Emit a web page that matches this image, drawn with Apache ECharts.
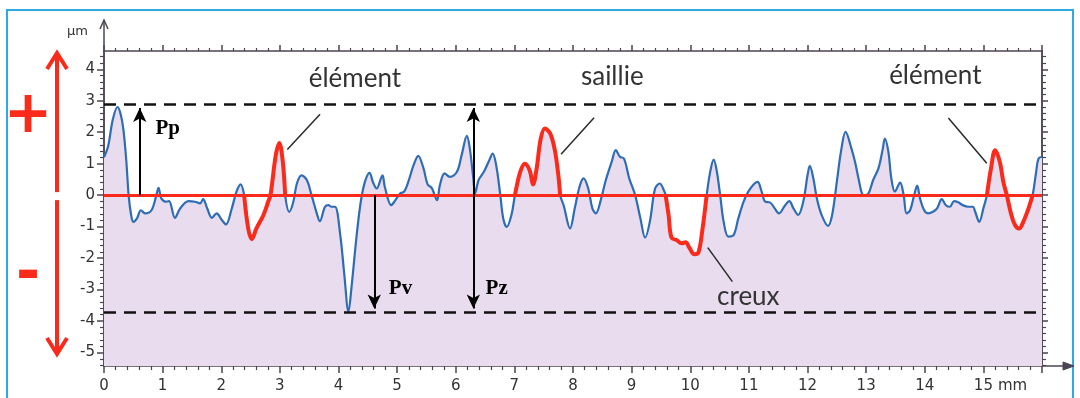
<!DOCTYPE html>
<html><head><meta charset="utf-8">
<script src="https://cdn.jsdelivr.net/npm/echarts@6/dist/echarts.min.js"></script>
<style>html,body{margin:0;padding:0;background:#fff}#c{width:1080px;height:398px}</style>
</head><body><div id="c"></div><script>
// ---- data (mm, µm) ----
const xs = [0.00,0.07,0.15,0.23,0.28,0.33,0.38,0.42,0.46,0.50,0.56,0.63,0.70,0.81,0.90,0.93,0.98,1.07,1.11,1.21,1.30,1.44,1.55,1.64,1.69,1.76,1.84,1.92,2.01,2.08,2.18,2.26,2.33,2.39,2.46,2.52,2.60,2.72,2.80,2.84,2.93,2.99,3.05,3.09,3.16,3.23,3.29,3.37,3.46,3.54,3.63,3.68,3.77,3.83,3.88,3.94,4.03,4.10,4.17,4.22,4.31,4.38,4.45,4.53,4.59,4.65,4.75,4.79,4.90,4.96,5.05,5.12,5.19,5.28,5.36,5.45,5.52,5.59,5.68,5.73,5.81,5.90,6.02,6.10,6.19,6.24,6.30,6.33,6.39,6.48,6.56,6.63,6.69,6.76,6.81,6.87,6.95,7.01,7.10,7.18,7.26,7.32,7.38,7.45,7.52,7.61,7.69,7.75,7.78,7.84,7.95,8.03,8.11,8.18,8.26,8.33,8.39,8.48,8.56,8.66,8.73,8.80,8.87,8.96,9.06,9.15,9.23,9.31,9.40,9.48,9.56,9.58,9.63,9.68,9.77,9.85,9.92,9.99,10.07,10.14,10.21,10.28,10.34,10.40,10.45,10.51,10.57,10.65,10.74,10.82,10.91,10.99,11.08,11.15,11.21,11.28,11.36,11.44,11.51,11.62,11.69,11.76,11.84,11.93,12.00,12.04,12.10,12.16,12.24,12.35,12.42,12.50,12.57,12.65,12.75,12.81,12.87,12.93,12.98,13.04,13.12,13.21,13.28,13.32,13.38,13.43,13.49,13.58,13.64,13.69,13.75,13.82,13.87,13.92,13.99,14.06,14.14,14.21,14.29,14.36,14.43,14.50,14.57,14.65,14.74,14.82,14.86,14.93,15.00,15.06,15.13,15.20,15.28,15.34,15.40,15.47,15.54,15.61,15.68,15.77,15.84,15.90,15.94,16.00];
const ys = [1.20,1.55,2.40,2.80,2.60,2.10,1.10,0.00,-0.60,-0.85,-0.75,-0.48,-0.58,-0.48,0.05,0.23,-0.11,-0.21,-0.19,-0.72,-0.42,-0.19,-0.21,-0.26,-0.13,-0.42,-0.72,-0.58,-0.79,-0.93,-0.42,0.11,0.34,0.00,-1.06,-1.40,-1.06,-0.63,-0.21,0.00,1.27,1.66,1.06,0.00,-0.53,-0.21,0.37,0.63,0.48,0.00,-0.58,-0.83,-0.37,-0.32,-0.37,-0.37,-1.27,-2.54,-3.70,-2.96,-1.27,-0.21,0.42,0.71,0.40,0.21,0.63,0.26,-0.32,-0.19,0.05,0.11,0.42,0.95,1.25,0.85,0.34,0.23,-0.16,0.32,0.69,0.58,0.74,1.27,1.88,1.48,0.53,0.05,0.48,0.74,1.06,1.32,0.95,0.00,-0.74,-1.01,-0.63,0.00,0.74,1.00,0.79,0.34,0.85,1.80,2.12,1.96,1.43,0.63,0.00,-0.32,-1.06,-0.42,0.26,0.53,0.21,-0.42,-0.58,-0.11,0.48,1.06,1.43,1.22,1.16,0.53,0.00,-0.74,-1.35,-0.85,0.21,0.37,0.11,0.00,-0.63,-1.35,-1.43,-1.53,-1.50,-1.69,-1.88,-1.82,-1.06,0.00,0.74,1.13,0.79,0.00,-0.85,-1.32,-1.27,-0.74,-0.21,0.11,0.34,0.42,0.16,-0.21,-0.23,-0.42,-0.58,-0.32,-0.19,-0.42,-0.63,-0.19,0.63,0.93,0.53,-0.11,-0.63,-0.98,-0.63,0.42,1.37,2.01,1.48,1.06,0.53,0.05,0.00,0.05,0.48,0.85,1.43,1.80,1.37,0.53,0.11,0.40,0.00,-0.58,-0.48,0.00,0.30,-0.11,-0.48,-0.58,-0.53,-0.42,-0.13,-0.32,-0.37,-0.19,-0.23,-0.32,-0.37,-0.37,-0.53,-0.85,-0.42,0.00,0.85,1.43,1.06,0.42,0.00,-0.58,-0.95,-1.06,-0.85,-0.42,0.00,0.74,1.16,1.22];
// highlighted features (start/end in mm)
const redStart = [2.39, 7.01, 9.58, 15.06];
const redEnd   = [3.09, 7.78, 10.28, 15.84];
// reference levels (µm)
const peakLevel = 2.89;
const valleyLevel = -3.72;
// axis ticks / labels
const xTicks = [0,1,2,3,4,5,6,7,8,9,10,11,12,13,14,15];
const yTicks = [-5,-4,-3,-2,-1,0,1,2,3,4];
const xUnit = 'mm', yUnit = 'µm';
const featureLabels = ['élément','saillie','élément','creux'];
const paramLabels = ['Pp','Pv','Pz'];

// ---- build ----
const profile = xs.map((x,i)=>[x, ys[i]]);
const yMinor = [];
for (let k=-27;k<=22;k++){ const v=Math.round(k*2)/10; if (Math.abs(v-Math.round(v))>1e-6) yMinor.push(v); }
const RED = '#fb2b1c', INK='#4d4452', TXT='#333';
const SMOOTH = 0.35;

const redSeries = redStart.map((s,i)=>({
  type:'line', data: profile.filter(p=>p[0]>=s-1e-9 && p[0]<=redEnd[i]+1e-9),
  smooth:SMOOTH, symbol:'none', lineStyle:{color:RED,width:4}, z:5, silent:true
}));

const axisLineStyle = {show:true,onZero:false,lineStyle:{color:INK,width:1.5}};
const chart = echarts.init(document.getElementById('c'), null, {renderer:'canvas'});
const lead = (a,b)=>[{coord:a,symbol:'none'},{coord:b,symbol:'none',lineStyle:{color:'#2a2a2a',width:1.5,type:'solid'}}];
const yAx = (pos,len,vals,label)=>({type:'value',position:pos,min:-5.43,max:4.58,splitLine:{show:false},
  axisLine:axisLineStyle,
  axisTick:{show:true,length:len,customValues:vals,lineStyle:{color:INK,width:len>5?1.5:1.2}},
  axisLabel: label ? {show:true,customValues:vals,margin:9,color:TXT,fontSize:15,fontFamily:'DejaVu Sans'} : {show:false}});
const option = {
  animation:false,
  backgroundColor:'#fff',
  grid:{left:104,right:38,top:51,bottom:32},
  xAxis:[
    {type:'value',position:'bottom',min:0,max:16,interval:1,splitLine:{show:false},axisLine:axisLineStyle,
      axisTick:{show:true,length:7,lineStyle:{color:INK,width:1.5}},
      minorTick:{show:true,splitNumber:5,length:4,lineStyle:{color:INK,width:1.2}},
      axisLabel:{margin:13,color:TXT,fontSize:15,fontFamily:'DejaVu Sans',
        formatter:v=> xTicks.indexOf(v)>=0 ? String(v) : ''}},
    {type:'value',position:'top',min:0,max:16,interval:1,splitLine:{show:false},axisLine:axisLineStyle,
      axisTick:{show:true,length:6,lineStyle:{color:INK,width:1.5}},
      minorTick:{show:true,splitNumber:5,length:3,lineStyle:{color:INK,width:1.2}},
      axisLabel:{show:false}}
  ],
  yAxis:[ yAx('left',7,yTicks,true), yAx('left',4,yMinor,false), yAx('right',6,yTicks,false), yAx('right',4,yMinor,false) ],
  series:[
    {type:'line', data:profile, smooth:SMOOTH, symbol:'none', silent:true, z:2,
     lineStyle:{color:'#2e6cb4',width:2.2},
     areaStyle:{color:'#e8dcee',opacity:1,origin:'start'}},
    {type:'line', data:[], z:3, silent:true,
     markLine:{silent:true, symbol:'none', animation:false, label:{show:false},
       data:[
         {yAxis:0, lineStyle:{color:RED,width:3,type:'solid'}},
         {yAxis:peakLevel, lineStyle:{color:'#111',width:2.5,type:[12,8]}},
         {yAxis:valleyLevel, lineStyle:{color:'#111',width:2.5,type:[12,8]}},
         lead([3.685,2.57],[3.127,1.45]),
         lead([8.359,2.46],[7.796,1.30]),
         lead([14.403,2.45],[15.058,1.01]),
         lead([10.299,-1.67],[10.718,-2.75])
       ]},
     markPoint:{silent:true, symbol:'circle', symbolSize:1, itemStyle:{color:'rgba(0,0,0,0)'},
       label:{show:true,position:'inside',formatter:'{b}',color:'#333',fontSize:26,fontFamily:'Lato'},
       data:[
         {name:featureLabels[0], coord:[4.28,3.71]},
         {name:featureLabels[1], coord:[8.67,3.78]},
         {name:featureLabels[2], coord:[14.18,3.81]},
         {name:featureLabels[3], coord:[10.99,-3.24]},
         {name:paramLabels[0], coord:[0.87,2.10], label:{position:'right',distance:0,fontFamily:'Liberation Serif',fontWeight:'bold',fontSize:21,color:'#000'}},
         {name:paramLabels[1], coord:[4.85,-2.98], label:{position:'right',distance:0,fontFamily:'Liberation Serif',fontWeight:'bold',fontSize:21,color:'#000'}},
         {name:paramLabels[2], coord:[6.50,-2.98], label:{position:'right',distance:0,fontFamily:'Liberation Serif',fontWeight:'bold',fontSize:21,color:'#000'}}
       ]}}
  ].concat(redSeries).concat([
    {type:'line', data:[], z:6, silent:true,
     markLine:{silent:true, symbol:'none', symbolSize:[10,14], animation:false, label:{show:false},
       lineStyle:{color:'#000',width:2,type:'solid'},
       data:[
         [{coord:[0.61,0],symbol:'none'},{coord:[0.61,peakLevel-0.12],symbol:'arrow'}],
         [{coord:[4.61,0],symbol:'none'},{coord:[4.61,valleyLevel+0.12],symbol:'arrow'}],
         [{coord:[6.30,peakLevel-0.12],symbol:'arrow'},{coord:[6.30,valleyLevel+0.12],symbol:'arrow'}]
       ]}}
  ])
};
chart.setOption(option);

// decorations outside the plot area
const tl = chart.convertToPixel({gridIndex:0},[0,4.58]);
const br = chart.convertToPixel({gridIndex:0},[16,-5.43]);
const z0 = chart.convertToPixel({gridIndex:0},[0,0]);
const ax = 57;
chart.setOption({graphic:[
  {type:'rect', shape:{x:7,y:10,width:1066,height:400}, style:{fill:'none',stroke:'#2fa9e4',lineWidth:2}, silent:true},
  {type:'line', shape:{x1:tl[0],y1:tl[1],x2:tl[0],y2:tl[1]-29}, style:{stroke:INK,lineWidth:1.5}},
  {type:'polyline', shape:{points:[[tl[0]-4,tl[1]-22],[tl[0],tl[1]-31],[tl[0]+4,tl[1]-22]]}, style:{stroke:INK,lineWidth:1.5,fill:'none'}},
  {type:'line', shape:{x1:br[0],y1:br[1],x2:br[0]+28,y2:br[1]}, style:{stroke:INK,lineWidth:1.5}},
  {type:'polygon', shape:{points:[[br[0]+21,br[1]-4],[br[0]+32,br[1]],[br[0]+21,br[1]+4]]}, style:{fill:INK,stroke:INK,lineWidth:1}},
  {type:'text', left:67, top:25, style:{text:yUnit,fill:TXT,font:'13px "DejaVu Sans"'}},
  {type:'text', x:998, y:386, style:{text:xUnit,fill:TXT,font:'15px "DejaVu Sans"',textVerticalAlign:'middle'}},
  {type:'line', shape:{x1:ax,y1:tl[1]+3,x2:ax,y2:z0[1]-3}, style:{stroke:RED,lineWidth:4}},
  {type:'polyline', shape:{points:[[ax-10,tl[1]+18],[ax,tl[1]+2],[ax+10,tl[1]+18]]}, style:{stroke:RED,lineWidth:4,fill:'none'}},
  {type:'line', shape:{x1:ax,y1:z0[1]+5,x2:ax,y2:br[1]-13}, style:{stroke:RED,lineWidth:4}},
  {type:'polyline', shape:{points:[[ax-10,br[1]-28],[ax,br[1]-12],[ax+10,br[1]-28]]}, style:{stroke:RED,lineWidth:4,fill:'none'}},
  {type:'text', x:28, y:117, style:{text:'+',fill:RED,font:'bold 58px "DejaVu Sans"',textAlign:'center',textVerticalAlign:'middle'}},
  {type:'text', x:28, y:276, style:{text:'-',fill:RED,font:'bold 58px "DejaVu Sans"',textAlign:'center',textVerticalAlign:'middle'}}
]});
</script></body></html>
